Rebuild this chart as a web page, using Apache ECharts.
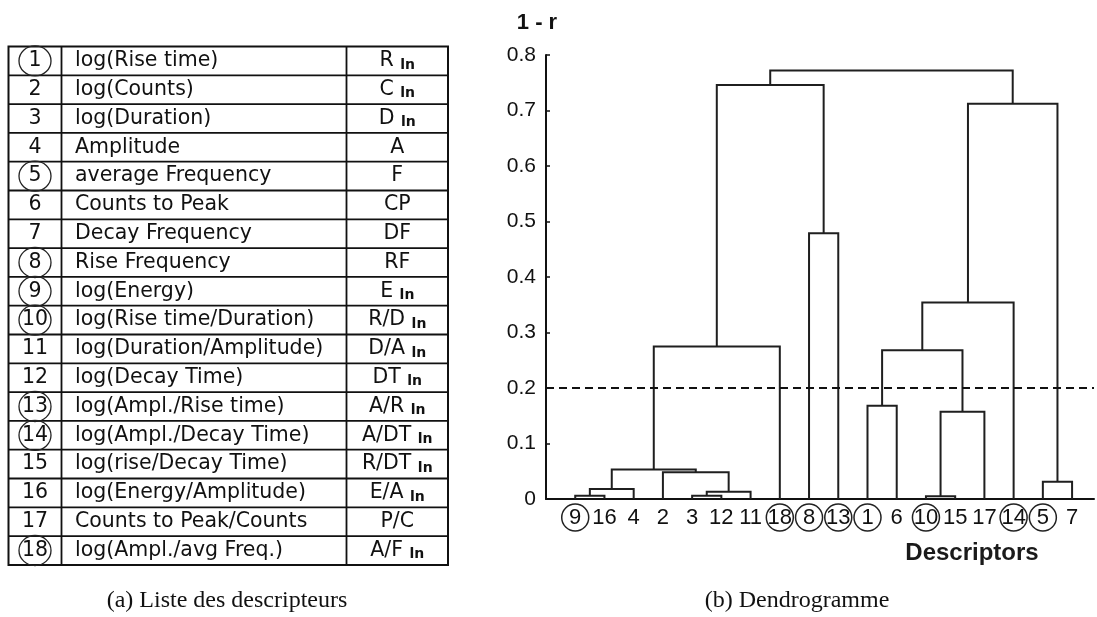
<!DOCTYPE html>
<html>
<head>
<meta charset="utf-8">
<script src="https://cdn.jsdelivr.net/npm/echarts@6/dist/echarts.min.js"></script>
<style>
  html, body { margin: 0; padding: 0; background: #fff; }
  #chart { width: 1097px; height: 617px; }
</style>
</head>
<body>
<div id="chart"></div>
<script>
// ---- Descriptor table ----
const descIds = [1, 2, 3, 4, 5, 6, 7, 8, 9, 10, 11, 12, 13, 14, 15, 16, 17, 18];
const descNames = [
  'log(Rise time)', 'log(Counts)', 'log(Duration)', 'Amplitude',
  'average Frequency', 'Counts to Peak', 'Decay Frequency', 'Rise Frequency',
  'log(Energy)', 'log(Rise time/Duration)', 'log(Duration/Amplitude)',
  'log(Decay Time)', 'log(Ampl./Rise time)', 'log(Ampl./Decay Time)',
  'log(rise/Decay Time)', 'log(Energy/Amplitude)', 'Counts to Peak/Counts',
  'log(Ampl./avg Freq.)'
];
const descSymbols = ['R', 'C', 'D', 'A', 'F', 'CP', 'DF', 'RF', 'E', 'R/D', 'D/A',
  'DT', 'A/R', 'A/DT', 'R/DT', 'E/A', 'P/C', 'A/F'];
const descIsLog = [1, 1, 1, 0, 0, 0, 0, 0, 1, 1, 1, 1, 1, 1, 1, 1, 0, 1];
const circledIds = [1, 5, 8, 9, 10, 13, 14, 18];

// ---- Dendrogram ----
const leafOrder = ['9', '16', '4', '2', '3', '12', '11', '18', '8', '13',
  '1', '6', '10', '15', '17', '14', '5', '7'];
// merges: [left child, right child, height (1 - r)]; "mK" = result of merge K
const merges = [
  ['9', '16', 0.006],   // m0
  ['m0', '4', 0.018],   // m1
  ['3', '12', 0.006],   // m2
  ['m2', '11', 0.013],  // m3
  ['2', 'm3', 0.048],   // m4
  ['m1', 'm4', 0.053],  // m5
  ['m5', '18', 0.275],  // m6
  ['8', '13', 0.479],   // m7
  ['m6', 'm7', 0.746],  // m8
  ['1', '6', 0.168],    // m9
  ['10', '15', 0.005],  // m10
  ['m10', '17', 0.157], // m11
  ['m9', 'm11', 0.268], // m12
  ['m12', '14', 0.354], // m13
  ['5', '7', 0.031],    // m14
  ['m13', 'm14', 0.712],// m15
  ['m8', 'm15', 0.772]  // m16
];
const cutHeight = 0.197;
const yTicks = [0, 0.1, 0.2, 0.3, 0.4, 0.5, 0.6, 0.7, 0.8];

// Resolve node positions: leaves at their order index, clusters at the mean of children
const nodePos = {};
leafOrder.forEach((name, i) => { nodePos[name] = { x: i, h: 0 }; });
const linkData = merges.map((m, k) => {
  const a = nodePos[m[0]], b = nodePos[m[1]];
  nodePos['m' + k] = { x: (a.x + b.x) / 2, h: m[2] };
  return [a.x, a.h, m[2], b.x, b.h];
});

// Table geometry
const tLeft = 8.5, tRight = 448, tTop = 46.5, rowH = 28.8;
const col1 = 61.5, col2 = 346.5;
const tBottom = tTop + rowH * descIds.length;
const txtColor = '#111';
const tableFont = 'DejaVu Sans';

const graphics = [];
graphics.push({
  type: 'rect', shape: { x: tLeft, y: tTop, width: tRight - tLeft, height: tBottom - tTop },
  style: { fill: null, stroke: '#111', lineWidth: 2 }, z: 10
});
[col1, col2].forEach(cx => graphics.push({
  type: 'line', shape: { x1: cx, y1: tTop, x2: cx, y2: tBottom },
  style: { stroke: '#111', lineWidth: 1.8 }, z: 10
}));
for (let i = 1; i < descIds.length; i++) {
  const y = tTop + rowH * i;
  graphics.push({
    type: 'line', shape: { x1: tLeft, y1: y, x2: tRight, y2: y },
    style: { stroke: '#111', lineWidth: 1.8 }, z: 10
  });
}
descIds.forEach((id, i) => {
  const cy = tTop + rowH * (i + 0.5);
  graphics.push({
    type: 'text', x: 35, y: cy, z: 11,
    style: { text: String(id), fontFamily: tableFont, fontSize: 20.5, fill: txtColor,
      align: 'center', verticalAlign: 'middle' }
  });
  if (circledIds.indexOf(id) >= 0) {
    graphics.push({
      type: 'ellipse', shape: { cx: 35, cy: cy, rx: 16, ry: 15 }, z: 11,
      style: { fill: null, stroke: '#222', lineWidth: 1.3 }
    });
  }
  graphics.push({
    type: 'text', x: 75, y: cy, z: 11,
    style: { text: descNames[i], fontFamily: tableFont, fontSize: 20.5, fill: txtColor,
      align: 'left', verticalAlign: 'middle' }
  });
  graphics.push({
    type: 'text', x: (col2 + tRight) / 2, y: cy, z: 11,
    style: {
      text: descIsLog[i] ? '{m|' + descSymbols[i] + '} {s|ln}' : '{m|' + descSymbols[i] + '}',
      fontFamily: tableFont, fontSize: 20.5, fill: txtColor,
      align: 'center', verticalAlign: 'middle',
      rich: {
        m: { fontFamily: tableFont, fontSize: 20.5, lineHeight: 22, fill: txtColor },
        s: { fontFamily: tableFont, fontSize: 14, lineHeight: 12, verticalAlign: 'bottom',
          fill: txtColor, fontWeight: 'bold' }
      }
    }
  });
});

// Captions and axis title
graphics.push({
  type: 'text', x: 227, y: 601, z: 11,
  style: { text: '(a) Liste des descripteurs', fontFamily: 'Liberation Serif', fontSize: 24,
    fill: '#111', align: 'center', verticalAlign: 'middle' }
});
graphics.push({
  type: 'text', x: 797, y: 601, z: 11,
  style: { text: '(b) Dendrogramme', fontFamily: 'Liberation Serif', fontSize: 24,
    fill: '#111', align: 'center', verticalAlign: 'middle' }
});
graphics.push({
  type: 'text', x: 972, y: 553, z: 11,
  style: { text: 'Descriptors', fontFamily: 'Liberation Sans', fontSize: 24, fontWeight: 'bold',
    fill: '#1a1a1a', align: 'center', verticalAlign: 'middle' }
});

const leafRich = {
  p: { fontFamily: 'Liberation Sans', fontSize: 22, color: '#111', width: 27, height: 27,
    lineHeight: 27, align: 'center' },
  c: { fontFamily: 'Liberation Sans', fontSize: 22, color: '#111', width: 27, height: 27,
    lineHeight: 27, align: 'center', borderColor: '#222', borderWidth: 1.5, borderRadius: 14 }
};

const chart = echarts.init(document.getElementById('chart'), null, { renderer: 'canvas' });
chart.setOption({
  animation: false,
  backgroundColor: '#fff',
  grid: { left: 546, right: 0, top: 55, bottom: 118, containLabel: false },
  xAxis: {
    type: 'value', min: -1, max: 17.75, interval: 1,
    splitLine: { show: false },
    axisTick: { show: false },
    axisLine: { show: true, onZero: false, lineStyle: { color: '#111', width: 2 } },
    axisLabel: {
      margin: 5,
      showMinLabel: true, showMaxLabel: true,
      formatter: v => {
        if (v < 0 || v > leafOrder.length - 1 || Math.round(v) !== v) return '';
        const name = leafOrder[v];
        return circledIds.indexOf(Number(name)) >= 0 ? '{c|' + name + '}' : '{p|' + name + '}';
      },
      rich: leafRich
    }
  },
  yAxis: {
    type: 'value', min: yTicks[0], max: yTicks[yTicks.length - 1], interval: 0.1,
    name: '1 - r', nameLocation: 'end', nameGap: 21,
    nameTextStyle: { fontFamily: 'Liberation Sans', fontSize: 22, fontWeight: 'bold',
      color: '#111', align: 'center', padding: [0, 18, 0, 0] },
    splitLine: { show: false },
    axisLine: { show: true, onZero: false, lineStyle: { color: '#111', width: 2 } },
    axisTick: { show: true, inside: true, length: 4, lineStyle: { color: '#111', width: 1.5 } },
    axisLabel: {
      margin: 10, fontFamily: 'Liberation Sans', fontSize: 21, color: '#111',
      formatter: v => (v === 0 ? '0' : v.toFixed(1))
    }
  },
  series: [{
    type: 'custom',
    clip: false,
    data: linkData,
    encode: { x: [0, 3], y: [1, 2, 4] },
    renderItem: (params, api) => {
      const p1 = api.coord([api.value(0), api.value(1)]);
      const p2 = api.coord([api.value(0), api.value(2)]);
      const p3 = api.coord([api.value(3), api.value(2)]);
      const p4 = api.coord([api.value(3), api.value(4)]);
      return {
        type: 'polyline',
        shape: { points: [p1, p2, p3, p4] },
        style: { stroke: '#1f1f1f', lineWidth: 2, fill: null }
      };
    },
    markLine: {
      silent: true, symbol: 'none', label: { show: false },
      lineStyle: { color: '#111', width: 2, type: [8, 5] },
      data: [{ yAxis: cutHeight }]
    }
  }],
  graphic: graphics
});
</script>
</body>
</html>
